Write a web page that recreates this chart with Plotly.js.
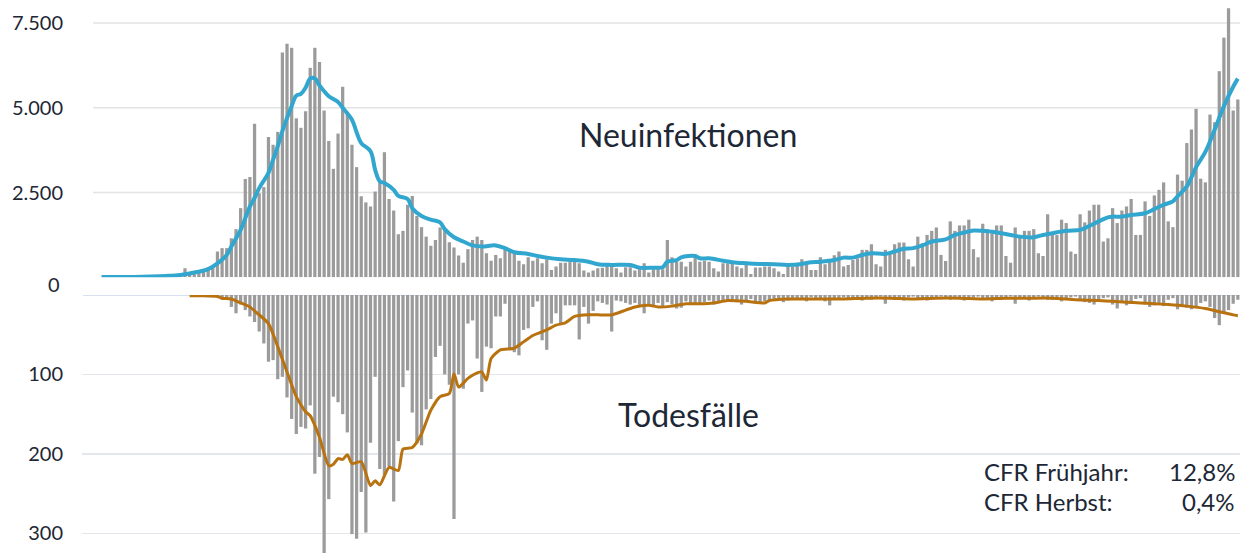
<!DOCTYPE html>
<html>
<head>
<meta charset="utf-8">
<script src="https://cdn.plot.ly/plotly-3.0.1.min.js"></script>
<style>
html,body{margin:0;padding:0;background:#fff;}
#chart{width:1247px;height:553px;}
</style>
</head>
<body>
<div id="chart"></div>
<script>
// Daily new infections (bars, top panel), day 0 .. 245
const newCases = [
0,0,0,0,0,0,0,0,0,2,
5,15,25,45,60,35,50,110,270,150,
150,200,230,300,350,760,860,860,1150,1420,
2040,2900,2960,4530,2480,2660,4140,3910,4290,6630,
6890,6770,4690,4410,4900,6180,6770,6350,4920,4020,
3200,4240,5620,4880,3910,3250,2390,2210,2090,2530,
2880,3690,2310,1970,1270,1370,2140,2400,1810,1480,
1200,930,1100,1470,1400,1035,880,640,430,830,
1100,1200,1100,710,490,660,560,830,810,710,
490,385,590,490,560,415,530,215,315,430,
430,460,460,415,200,140,200,265,285,395,
395,265,140,295,295,200,265,415,140,240,
240,240,1100,590,460,460,315,460,610,460,
490,460,265,170,415,415,415,315,265,365,
100,290,290,315,315,265,170,100,415,315,
415,530,460,215,215,590,385,460,650,760,
315,365,510,560,810,810,975,385,315,810,
710,975,1025,1025,530,315,1200,1005,1250,1370,
1470,660,480,1650,1370,1530,1530,1700,830,590,
1580,1420,1300,1530,1530,630,430,1470,1170,1370,
1370,1420,710,630,1860,1250,1250,1700,1600,760,
690,1860,1620,1970,2140,2140,1055,1150,2040,1600,
1970,2090,2310,1250,1250,2240,1810,2415,2580,2800,
1650,1480,3030,2850,3960,4360,4970,2910,2800,4800,
4575,6080,7070,7940,4920,5245
];

// Daily deaths (bars, bottom panel, drawn downwards), day 0 .. 245
const newDeaths = [
0,0,0,0,0,0,0,0,0,0,
0,0,0,0,0,0,0,0,0,0,
0,1,2,1,2,3,6,3,15,23,
12,19,27,34,46,61,84,82,106,103,
129,156,175,166,168,139,225,204,330,257,
128,135,150,173,301,307,248,299,186,103,
219,227,216,260,184,116,95,148,187,189,
144,131,78,64,100,113,282,100,118,36,
32,80,122,65,67,27,27,11,69,72,
76,44,42,15,8,57,69,36,23,36,
13,13,13,56,15,36,20,8,10,12,
46,7,8,10,12,10,14,23,12,15,
10,14,9,12,17,16,8,10,12,11,
9,7,12,10,8,6,7,9,12,7,
5,9,10,8,6,5,4,9,7,6,
5,4,8,3,5,6,8,13,5,4,
3,6,5,4,7,5,6,3,2,11,
5,6,4,7,3,2,6,5,7,4,
5,2,3,6,5,4,7,5,3,2,
6,5,8,4,6,3,2,11,5,4,
7,5,2,3,6,6,4,8,5,3,
2,7,9,10,12,8,4,3,12,17,
10,13,11,5,4,12,15,13,11,14,
6,4,18,13,16,18,15,10,8,15,
29,38,23,19,11,6
];

// Smoothed infections (blue line), read at sample days
const caseAvgDays = [0,7,14,17,20,23,25,27,28,30,32,33,34,36,37,38,39,41,42,43,44,45,46,47,48,49,51,52,54,55,56,58,59,60,61,63,64,66,67,69,71,73,74,76,78,80,82,85,87,89,92,94,96,99,102,105,107,110,114,116,119,121,122,124,125,128,129,131,134,136,139,142,145,148,151,153,155,158,160,162,164,166,169,171,173,175,177,179,182,184,186,188,190,193,196,198,201,203,205,208,211,212,215,217,218,220,222,225,227,229,231,232,234,236,238,240,242,244,245];
const caseAvg = [10,10,40,70,140,240,410,660,910,1400,2090,2340,2630,3080,3470,3870,4310,5050,5360,5410,5590,5860,5870,5660,5490,5340,5170,5000,4650,4280,3960,3720,3170,2830,2780,2580,2400,2310,2040,1810,1700,1620,1420,1180,1055,940,910,940,860,740,690,630,580,530,510,460,385,365,365,285,285,295,460,510,590,630,560,560,490,445,415,395,385,365,395,445,460,510,580,580,660,710,690,760,840,860,940,1055,1120,1250,1320,1380,1370,1320,1250,1200,1180,1250,1300,1370,1400,1450,1650,1770,1790,1790,1840,1890,2010,2140,2240,2390,2680,3250,3700,4350,5050,5620,5860];

// Smoothed deaths (brown line), read at sample days
const deathAvgDays = [19,22,25,26,28,30,32,33,36,38,40,42,44,45,47,49,50,51,52,53,54,56,58,59,60,62,64,65,67,69,71,73,75,76,77,79,81,82,83,84,86,89,91,93,96,98,100,102,105,107,110,113,115,118,120,123,126,129,132,135,139,143,144,148,151,155,160,165,170,175,180,185,190,195,200,205,210,215,218,221,224,227,230,234,238,241,244,245];
const deathAvg = [1,1,2,4,5,10,15,20,36,65,97,128,147,152,179,215,213,206,207,201,212,210,240,234,239,217,221,194,192,175,145,128,124,99,116,105,98,97,107,80,69,67,59,51,44,38,35,27,25,25,25,19,15,13,15,14,11,11,10,7,8,10,7,5,5,5,5,4,4,5,4,4,5,4,4,4,6,7,8,9,10,11,12,14,17,21,25,26];

// Axis ticks
const caseTicks = [2500, 5000, 7500];
const caseTickLabels = ['2.500', '5.000', '7.500'];
const deathTicks = [100, 200, 300];
const deathTickLabels = ['100', '200', '300'];

const days = newCases.map((_, i) => i);

const W = 1247, H = 553;
const px = v => v / W;
const py = v => 1 - v / H;

const FONT = 'Lato, "Open Sans", sans-serif';
const TXT = '#1d2735';
const BAR = '#9b9b9b';

const traces = [
  {type: 'bar', x: days, y: newCases, xaxis: 'x', yaxis: 'y',
   marker: {color: BAR, line: {width: 0}}, hoverinfo: 'skip'},
  {type: 'bar', x: days, y: newDeaths, xaxis: 'x', yaxis: 'y2',
   marker: {color: BAR, line: {width: 0}}, hoverinfo: 'skip'},
  {type: 'scatter', mode: 'lines', x: caseAvgDays, y: caseAvg, xaxis: 'x', yaxis: 'y',
   line: {color: '#31a7cf', width: 4, shape: 'spline', smoothing: 1}, hoverinfo: 'skip'},
  {type: 'scatter', mode: 'lines', x: deathAvgDays, y: deathAvg, xaxis: 'x', yaxis: 'y2',
   line: {color: '#b8720f', width: 3, shape: 'spline', smoothing: 0.6}, hoverinfo: 'skip'}
];

const gridShapes = caseTicks.map(v => ({
  type: 'line', xref: 'paper', yref: 'y', x0: px(93), x1: px(1240), y0: v, y1: v,
  line: {color: '#e3e3e3', width: 1.5}, layer: 'below'
}));
gridShapes.push({
  type: 'line', xref: 'paper', yref: 'y2', x0: px(83), x1: px(1240), y0: 0, y1: 0,
  line: {color: '#c9d7ec', width: 1.5}, layer: 'below'
});

const layout = {
  width: W, height: H,
  margin: {l: 0, r: 0, t: 0, b: 0, pad: 0},
  paper_bgcolor: '#ffffff', plot_bgcolor: 'rgba(0,0,0,0)',
  showlegend: false,
  bargap: 0.3,
  font: {family: FONT, color: TXT, size: 20},
  xaxis: {domain: [px(82), px(1240)], range: [-4.204, 245.47], visible: false, fixedrange: true},
  yaxis: {domain: [py(277.3), 1], range: [0, 8180], showgrid: false, zeroline: false,
          showline: false, tickvals: caseTicks, ticktext: caseTickLabels, ticks: '',
          ticklabelstandoff: 18, tickfont: {family: FONT, size: 20, color: TXT}, automargin: false},
  yaxis2: {domain: [0, py(295)], range: [324.8, 0], showgrid: true, gridcolor: '#e3e6ea', gridwidth: 1.5,
           zeroline: false, showline: false, tickvals: deathTicks, ticktext: deathTickLabels, ticks: '',
           ticklabelstandoff: 18, tickfont: {family: FONT, size: 20, color: TXT}, automargin: false},
  shapes: gridShapes,
  annotations: [
    {xref: 'paper', yref: 'paper', x: px(62), y: py(284), xanchor: 'right', yanchor: 'middle',
     text: '0', showarrow: false, font: {family: FONT, size: 20, color: TXT}},
    {xref: 'paper', yref: 'paper', x: px(688), y: py(134.5), xanchor: 'center', yanchor: 'middle',
     text: 'Neuinfektionen', showarrow: false, font: {family: FONT, size: 32, color: TXT}},
    {xref: 'paper', yref: 'paper', x: px(688), y: py(414.5), xanchor: 'center', yanchor: 'middle',
     text: 'Todesfälle', showarrow: false, font: {family: FONT, size: 32, color: TXT}},
    {xref: 'paper', yref: 'paper', x: px(983), y: py(471.5), xanchor: 'left', yanchor: 'middle',
     text: 'CFR Frühjahr:', showarrow: false, borderpad: 0, font: {family: FONT, size: 24, color: TXT}},
    {xref: 'paper', yref: 'paper', x: px(1236), y: py(471.5), xanchor: 'right', yanchor: 'middle',
     text: '12,8%', showarrow: false, borderpad: 0, font: {family: FONT, size: 24, color: TXT}},
    {xref: 'paper', yref: 'paper', x: px(983), y: py(501.5), xanchor: 'left', yanchor: 'middle',
     text: 'CFR Herbst:', showarrow: false, borderpad: 0, font: {family: FONT, size: 24, color: TXT}},
    {xref: 'paper', yref: 'paper', x: px(1236), y: py(501.5), xanchor: 'right', yanchor: 'middle',
     text: '0,4%', showarrow: false, borderpad: 0, font: {family: FONT, size: 24, color: TXT}}
  ]
};

Plotly.newPlot('chart', traces, layout, {staticPlot: true, displayModeBar: false});
</script>
</body>
</html>
